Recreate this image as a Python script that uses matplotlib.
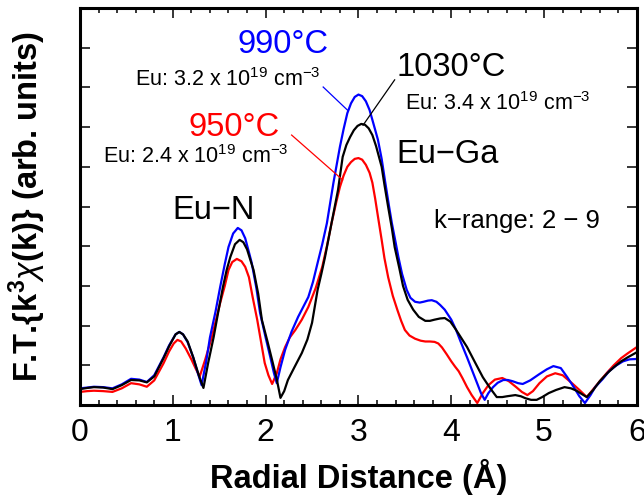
import numpy as np
import matplotlib
matplotlib.use("Agg")
import matplotlib.pyplot as plt
from matplotlib.ticker import MultipleLocator

plt.rcParams['font.family'] = ['Liberation Sans', 'DejaVu Sans']
plt.rcParams['mathtext.fontset'] = 'custom'
plt.rcParams['mathtext.rm'] = 'Liberation Sans'
plt.rcParams['mathtext.it'] = 'Liberation Sans:italic'
plt.rcParams['mathtext.bf'] = 'Liberation Sans:bold'

# 950 C
r_950 = [0, 0.08, 0.15, 0.25, 0.35, 0.45, 0.55, 0.64, 0.72, 0.8, 0.9, 0.96, 1.01, 1.05, 1.09,
         1.14, 1.2, 1.25, 1.29, 1.35, 1.42, 1.51, 1.56, 1.6, 1.64, 1.69, 1.74, 1.78, 1.82,
         1.86, 1.91, 1.95, 1.99, 2.03, 2.07, 2.12, 2.16, 2.21, 2.26, 2.32, 2.39, 2.46,
         2.54, 2.61, 2.66, 2.71, 2.76, 2.8, 2.84, 2.88, 2.92, 2.96, 3.0, 3.04, 3.08, 3.12,
         3.15, 3.18, 3.21, 3.25, 3.28, 3.32, 3.37, 3.42, 3.46, 3.5, 3.55, 3.61, 3.67, 3.72,
         3.77, 3.82, 3.86, 3.9, 3.95, 4.0, 4.04, 4.08, 4.12, 4.17, 4.22, 4.28, 4.34, 4.4,
         4.47, 4.55, 4.62, 4.7, 4.76, 4.82, 4.88, 4.95, 5.03, 5.12, 5.2, 5.3, 5.38, 5.46,
         5.53, 5.6, 5.68, 5.75, 5.83, 5.9, 6.0]
ft_950 = [0.33, 0.35, 0.36, 0.35, 0.33, 0.42, 0.55, 0.52, 0.46, 0.62, 1.05, 1.35, 1.55, 1.64, 1.6,
          1.42, 1.15, 0.9, 0.72, 1.15, 1.71, 2.57, 3.0, 3.4, 3.6, 3.68, 3.62, 3.48, 3.22,
          2.72, 2.14, 1.6, 1.06, 0.75, 0.53, 0.8, 1.15, 1.46, 1.7, 1.89, 2.15, 2.47,
          2.95, 3.48, 4.0, 4.58, 5.1, 5.49, 5.78, 6.0, 6.12, 6.2, 6.22, 6.18, 6.05, 5.85,
          5.6, 5.2, 4.75, 4.16, 3.7, 3.22, 2.75, 2.39, 2.12, 1.89, 1.75, 1.67, 1.62, 1.6,
          1.6, 1.59, 1.55, 1.45, 1.28, 1.1, 0.97, 0.85, 0.68, 0.45, 0.25, 0.05, 0.3, 0.5,
          0.64, 0.68, 0.6, 0.45, 0.33, 0.25, 0.35, 0.55, 0.72, 0.8, 0.75, 0.55, 0.38, 0.2,
          0.4, 0.6, 0.82, 1.0, 1.18, 1.3, 1.46]

# 990 C
r_990 = [0, 0.08, 0.15, 0.25, 0.35, 0.45, 0.55, 0.64, 0.72, 0.8, 0.9, 0.96, 1.03, 1.07, 1.11,
         1.16, 1.22, 1.27, 1.31, 1.36, 1.4, 1.46, 1.51, 1.56, 1.6, 1.65, 1.7, 1.74, 1.78,
         1.82, 1.85, 1.9, 1.94, 2.0, 2.05, 2.09, 2.12, 2.16, 2.21, 2.28, 2.35, 2.46, 2.51,
         2.56, 2.61, 2.66, 2.73, 2.8, 2.84, 2.88, 2.92, 2.96, 3.0, 3.04, 3.08, 3.12, 3.16,
         3.21, 3.25, 3.29, 3.33, 3.36, 3.4, 3.43, 3.47, 3.52, 3.56, 3.61, 3.66, 3.7, 3.75,
         3.79, 3.84, 3.88, 3.93, 4.0, 4.05, 4.1, 4.17, 4.22, 4.27, 4.32, 4.36, 4.4, 4.45,
         4.5, 4.56, 4.61, 4.66, 4.72, 4.77, 4.85, 4.95, 5.03, 5.1, 5.18, 5.25, 5.32, 5.38,
         5.44, 5.5, 5.55, 5.63, 5.7, 5.78, 5.85, 5.92, 6.0]
ft_990 = [0.42, 0.44, 0.46, 0.45, 0.42, 0.52, 0.66, 0.64, 0.58, 0.75, 1.2, 1.5, 1.78, 1.84, 1.78,
          1.58, 1.2, 0.8, 0.5, 1.1, 1.7, 2.35, 2.97, 3.55, 3.98, 4.32, 4.46, 4.4, 4.2,
          3.85, 3.58, 2.95, 2.32, 1.7, 1.21, 0.8, 0.55, 0.95, 1.39, 1.85, 2.22, 2.72, 3.1,
          3.58, 4.05, 4.58, 5.59, 6.5, 6.95, 7.35, 7.6, 7.76, 7.82, 7.78, 7.65, 7.43, 7.1,
          6.68, 6.2, 5.59, 5.0, 4.58, 4.1, 3.73, 3.3, 2.9, 2.7, 2.6, 2.58, 2.6, 2.63,
          2.64, 2.6, 2.52, 2.4, 2.15, 1.9, 1.6, 1.2, 0.9, 0.6, 0.3, 0.13, 0.3, 0.45,
          0.56, 0.63, 0.63, 0.6, 0.55, 0.53, 0.62, 0.78, 0.9, 0.98, 0.93, 0.7, 0.45, 0.22,
          0.05, 0.25, 0.45, 0.65, 0.85, 1.0, 1.1, 1.15, 1.16]

# 1030 C
r_1030 = [0, 0.08, 0.15, 0.25, 0.35, 0.45, 0.55, 0.64, 0.72, 0.8, 0.9, 0.96, 1.03, 1.07, 1.11,
          1.16, 1.22, 1.28, 1.33, 1.38, 1.44, 1.49, 1.54, 1.58, 1.62, 1.67, 1.72, 1.76, 1.8,
          1.84, 1.87, 1.92, 1.96, 2.02, 2.07, 2.12, 2.16, 2.2, 2.24, 2.31, 2.39, 2.45, 2.5,
          2.56, 2.6, 2.64, 2.71, 2.78, 2.83, 2.87, 2.91, 2.95, 2.99, 3.03, 3.07, 3.11, 3.15,
          3.19, 3.25, 3.28, 3.32, 3.36, 3.39, 3.44, 3.48, 3.53, 3.59, 3.65, 3.72, 3.77, 3.82,
          3.88, 3.93, 3.99, 4.05, 4.11, 4.17, 4.25, 4.34, 4.42, 4.49, 4.55, 4.6, 4.69, 4.75,
          4.8, 4.86, 4.92, 4.98, 5.05, 5.13, 5.22, 5.29, 5.35, 5.41, 5.46, 5.53, 5.6, 5.68,
          5.75, 5.83, 5.9, 6.0]
ft_1030 = [0.40, 0.43, 0.45, 0.44, 0.40, 0.5, 0.63, 0.62, 0.57, 0.72, 1.18, 1.48, 1.78, 1.84, 1.78,
           1.6, 1.2, 0.75, 0.43, 1.05, 1.71, 2.35, 2.97, 3.4, 3.73, 4.05, 4.16, 4.1, 3.92,
           3.62, 3.4, 2.8, 2.14, 1.6, 1.13, 0.65, 0.18, 0.35, 0.63, 0.95, 1.31, 1.65, 2.07,
           2.9, 3.3, 3.73, 4.58, 5.42, 6.25, 6.55, 6.75, 6.92, 7.03, 7.08, 7.06, 6.97, 6.8,
           6.52, 6.0, 5.55, 4.99, 4.45, 3.98, 3.45, 3.0, 2.65, 2.4, 2.22, 2.12, 2.12, 2.15,
           2.18, 2.19, 2.1, 1.9, 1.68, 1.46, 1.1, 0.7, 0.42, 0.2, 0.2, 0.22, 0.25, 0.22,
           0.17, 0.13, 0.13, 0.2, 0.3, 0.38, 0.45, 0.42, 0.36, 0.27, 0.2, 0.38, 0.6, 0.8,
           0.95, 1.1, 1.2, 1.33]

fig = plt.figure(figsize=(6.44, 5.01), dpi=100)
ax = fig.add_axes([0.1242, 0.1916, 0.8648, 0.7924])

ax.plot(r_950, ft_950, color='red', lw=1.6)
ax.plot(r_990, ft_990, color='blue', lw=1.6)
ax.plot(r_1030, ft_1030, color='black', lw=1.6)

ax.set_xlim(0, 6)
ax.set_ylim(0, 10)
ax.xaxis.set_major_locator(MultipleLocator(1))
ax.xaxis.set_minor_locator(MultipleLocator(0.2))
ax.yaxis.set_major_locator(MultipleLocator(1))
ax.set_yticklabels([])
ax.tick_params(which='both', direction='in', top=True, right=True, width=1.1)
ax.tick_params(which='major', length=7, labelsize=23, pad=9)
ax.tick_params(which='minor', length=3.5)
for s in ax.spines.values():
    s.set_linewidth(2.2)

ax.set_xlabel('Radial Distance (Å)', fontsize=23.5, fontweight='bold', labelpad=8)
ax.set_ylabel(r'F.T.{k$^{\mathbf{3}}\chi$(k)} (arb. units)', fontsize=23.5,
              fontweight='bold', labelpad=14)

sup = r'$^{\mathrm{19}}$ cm$^{\mathrm{-3}}$'
ax.text(2.19, 9.07, '990°C', color='blue', fontsize=23.5, ha='center', va='center')
ax.text(1.59, 8.19, 'Eu: 3.2 x 10' + sup, fontsize=15.5, ha='center', va='center')
ax.text(1.66, 7.0, '950°C', color='red', fontsize=23.5, ha='center', va='center')
ax.text(1.25, 6.25, 'Eu: 2.4 x 10' + sup, fontsize=15.5, ha='center', va='center')
ax.text(4.0, 8.49, '1030°C', fontsize=23.5, ha='center', va='center')
ax.text(4.5, 7.6, 'Eu: 3.4 x 10' + sup, fontsize=15.5, ha='center', va='center')
ax.text(3.96, 6.3, 'Eu\u2212Ga', fontsize=23.5, ha='center', va='center')
ax.text(1.44, 4.89, 'Eu\u2212N', fontsize=23.5, ha='center', va='center')
ax.text(4.71, 4.63, 'k\u2212range: 2 \u2212 9', fontsize=18.5, ha='center', va='center')

ax.plot([2.62, 2.89], [8.01, 7.41], color='blue', lw=0.9)
ax.plot([2.28, 2.83], [6.80, 5.67], color='red', lw=0.9)
ax.plot([3.39, 3.05], [8.19, 7.05], color='black', lw=0.9)

fig.savefig('out.png', dpi=100)
